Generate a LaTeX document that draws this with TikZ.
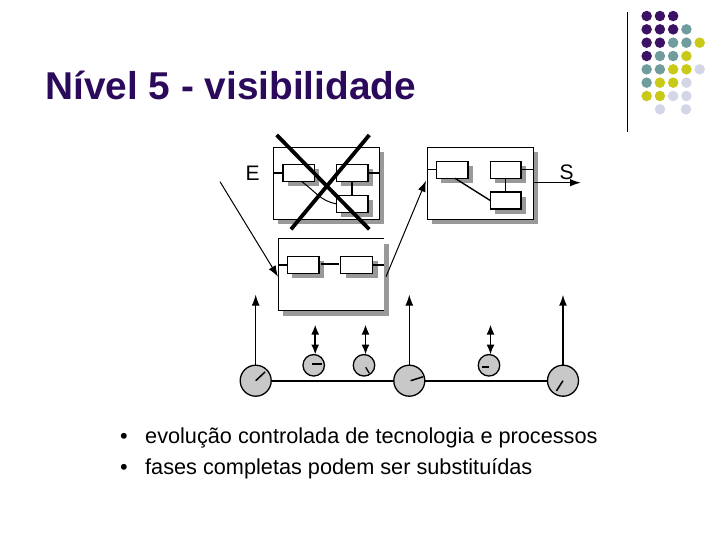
\documentclass[tikz,border=0pt]{standalone}
\usepackage{fontspec}
\setmainfont{Liberation Sans}
\usepackage{tikz}
\usetikzlibrary{calc,positioning,shadows,arrows.meta}
\definecolor{dotp}{HTML}{3B1264}
\definecolor{dott}{HTML}{6F9C9C}
\definecolor{doty}{HTML}{C9C917}
\definecolor{dotl}{HTML}{D5D5E8}
\definecolor{shade}{HTML}{999999}
\definecolor{dial}{HTML}{C8C8C8}
\definecolor{head}{HTML}{2B0A5C}
\tikzset{dot vertex/.style={circle,minimum size=10.5pt,inner sep=0pt,outer sep=0pt},
	big box/.style={rectangle,draw,fill=white,line width=1.1pt,inner sep=0pt,outer sep=0pt,minimum width=106pt,minimum height=72pt,drop shadow={shadow xshift=4.5pt,shadow yshift=-5pt,fill=shade,opacity=1}},
	small box/.style={rectangle,draw,fill=white,line width=1.5pt,inner sep=0pt,outer sep=0pt,minimum width=31.5pt,minimum height=17pt,drop shadow={shadow xshift=5pt,shadow yshift=-5pt,fill=shade,opacity=1}},
	big dial/.style={circle,draw,fill=dial,line width=1.3pt,inner sep=0pt,outer sep=0pt,minimum size=31pt},
	small dial/.style={circle,draw,fill=dial,line width=1.3pt,inner sep=0pt,outer sep=0pt,minimum size=21.5pt},
	thin arrow/.style={line width=1pt,-{Latex[length=11pt,width=8pt]}},
	both arrow/.style={line width=1.7pt,{Latex[length=10pt,width=8pt]}-{Latex[length=10pt,width=8pt]}},
	letter/.style={inner sep=0pt,font=\fontsize{21}{21}\selectfont},
	item/.style={anchor=base west,inner sep=0pt,font=\fontsize{21.7}{24}\selectfont}}
\begin{document}
\begin{tikzpicture}[x=1pt,y=-1pt]
	\useasboundingbox (0,0) rectangle (720,540);

	% title and the corner
	\node [anchor=base west,inner sep=0pt,font=\bfseries\fontsize{38.8}{42}\selectfont,color=head] (title) at (45,99.5) {Nível 5 - visibilidade};
	\coordinate (ruleA) at (627.5,12);
	\coordinate (ruleB) at (627.5,132);
	\draw [line width=1pt] (ruleA) to (ruleB);
	\foreach \row/\r in {{dotp,dotp,dotp}/1,{dotp,dotp,dotp,dott}/2,{dotp,dotp,dott,dott,doty}/3,{dotp,dott,dott,doty}/4,{dott,dott,doty,doty,dotl}/5,{dott,doty,doty,dotl}/6,{doty,doty,dotl,dotl}/7}{
		\foreach \c [count=\i] in \row{
			\node [dot vertex,fill=\c] (d\r\i) at ({633.4+13.25*\i},{2.7+13.33*\r}) {};
		}
	}
	\node [dot vertex,fill=dotl] (d82) at (660,109.3) {};
	\node [dot vertex,fill=dotl] (d84) at (686,109.3) {};

	% crossed out box
	\node [big box] (ebox) at (326.7,183.3) {};
	\node [small box] (e1) at (298.5,173) {};
	\node [small box] (e2) at (352,173) {};
	\node [small box] (e3) at (352,203.8) {};
	\draw [line width=1.5pt] (e1.west) to (e1.west -| ebox.west);
	\draw [line width=1.5pt] (e2.east) to (e2.east -| ebox.east);
	\draw [line width=1.5pt] (e2.south) to (e3.north);
	\draw [line width=1pt] (e1.south) ++(3,0) to [out=-35,in=170] (e3.west);
	\node [letter] (E) at (252.7,173.3) {E};
	\coordinate (xA) at (276.7,135);
	\coordinate (xB) at (369.3,229.3);
	\coordinate (xC) at (369.3,135);
	\coordinate (xD) at (291,229.3);
	\draw [line width=3.8pt] (xA) to (xB);
	\draw [line width=3.8pt] (xC) to (xD);

	% box on the right
	\node [big box] (sbox) at (480.3,183.3) {};
	\node [small box] (s1) at (452,169.8) {};
	\node [small box,minimum width=30.5pt] (s2) at (505.5,169.8) {};
	\node [small box,minimum width=30.5pt] (s3) at (505.5,200.5) {};
	\draw [line width=1pt] (s1.west) to (s1.west -| sbox.west);
	\draw [line width=1pt] (s2.east) to (s2.east -| sbox.east);
	\draw [line width=1.8pt] (s2.south) to (s3.north);
	\draw [line width=1.4pt] (s1.south) ++(3,0) to (s3.west);
	\node [letter] (S) at (566.7,172.7) {S};
	\coordinate (sOut) at (581,182.7);
	\draw [line width=1.5pt,-{Latex[length=11pt,width=7.5pt]}] (sbox.east |- sOut) to (sOut);

	% box in the middle, its right side has no line
	\node [big box,draw=none] (mbox) at (331.2,274.7) {};
	\draw [line width=1.1pt] (mbox.north east) -- (mbox.north west) -- (mbox.south west) -- (mbox.south east);
	\node [small box] (m1) at (303,264.8) {};
	\node [small box,minimum width=32pt] (m2) at (356.5,264.8) {};
	\draw [line width=1.5pt] (m1.west) to (m1.west -| mbox.west);
	\draw [line width=1.5pt] (m2.east) to (m2.east -| mbox.east);
	\draw [line width=1.7pt] ($(m1.east)+(2.5,-1)$) to ($(m2.west)+(-1.5,-1)$);
	\coordinate (inA) at (220,181.7);
	\coordinate (inB) at (278,276.7);
	\coordinate (upA) at (386,276.7);
	\coordinate (upB) at (426,180.7);
	\draw [thin arrow] (inA) to (inB);
	\draw [thin arrow] (upA) to (upB);

	% dials on the line
	\node [big dial] (big1) at (255.7,380.7) {};
	\node [big dial] (big2) at (409.3,380.7) {};
	\node [big dial] (big3) at (563,380.7) {};
	\node [small dial] (small1) at (313.7,365.3) {};
	\node [small dial] (small2) at (364,365.3) {};
	\node [small dial] (small3) at (489,365.3) {};
	\draw [line width=2pt] (big1) to (big2);
	\draw [line width=2pt] (big2) to (big3);
	\draw [line width=1.5pt] (big1.center) to +(9.3,-8.7);
	\draw [line width=1.5pt] (big2.center) ++(1.4,0) to +(12.6,-4);
	\draw [line width=1.5pt] (big3.center) to +(-6.6,10.3);
	\draw [line width=1.8pt] (small1.center) ++(-1.7,-1.6) to +(9.7,0);
	\draw [line width=1.3pt] (small2.center) ++(1.7,2) to +(3.6,6);
	\draw [line width=1.8pt] (small3.center) ++(-7.3,1.4) to +(7.3,0);
	\foreach \u/\h in {big1/294.7,big2/294.7}{
		\coordinate (\u top) at (\u |- 0,\h);
		\draw [thin arrow] (\u.north) to (\u top);
	}
	\coordinate (big3top) at (big3 |- 0,294.7);
	\draw [thin arrow,line width=1.6pt] (big3.north) to (big3top);
	\foreach \u in {small1,small2,small3}{
		\coordinate (\u top) at ($(\u.north)+(1.5,-30)$);
		\draw [both arrow] ($(\u.north)+(1.5,0)$) to (\u top);
	}

	% the two lines of text
	\node [item] (b1) at (120,443.5) {•};
	\node [item] (t1) at (145,443.5) {evolução controlada de tecnologia e processos};
	\node [item] (b2) at (120,474) {•};
	\node [item] (t2) at (145,474) {fases completas podem ser substituídas};
\end{tikzpicture}
\end{document}
